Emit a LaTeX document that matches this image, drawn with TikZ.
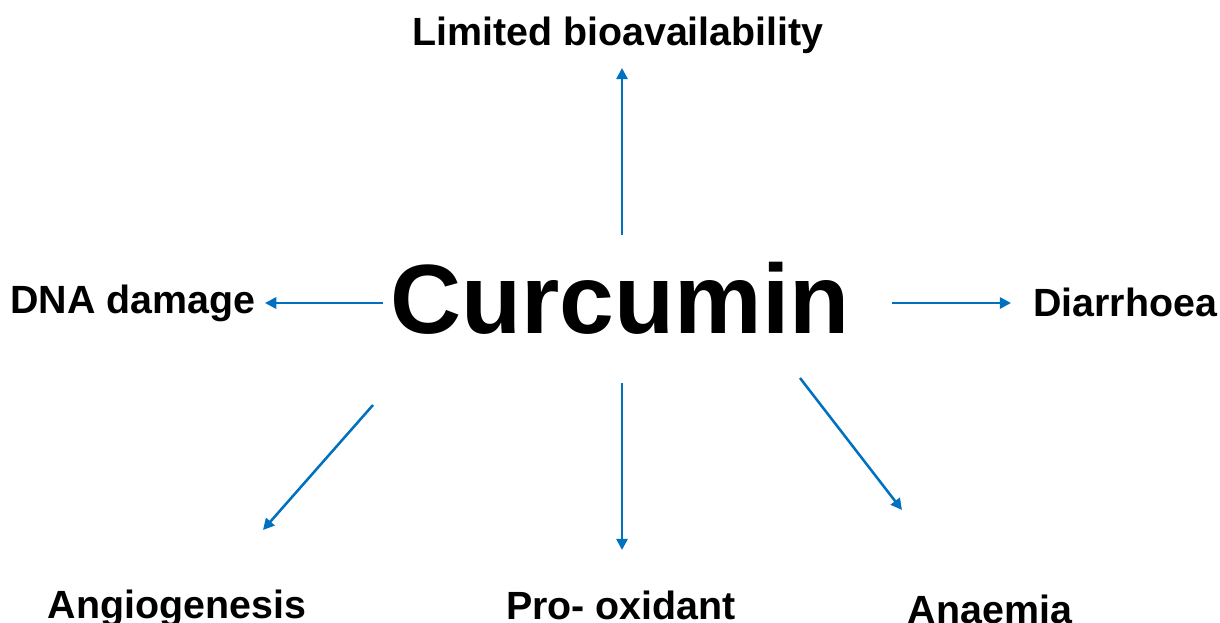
\documentclass[tikz,border=0pt]{standalone}
\usepackage{fontspec}
\setmainfont{Liberation Sans}
\definecolor{arrowblue}{HTML}{0070C0}
\tikzset{
 lbl/.style={font=\bfseries\fontsize{28}{34}\selectfont,inner sep=0pt},
 arr/.style={-{Triangle[length=8pt,width=8pt]},arrowblue,line width=1.8pt}
}
\usetikzlibrary{arrows.meta}
\begin{document}
\begin{tikzpicture}[x=0.025cm,y=-0.025cm]
 \useasboundingbox (0,0) rectangle (1220,623);
 \node[font=\bfseries\fontsize{70}{80}\selectfont,inner sep=0pt] (cur) at (620,298) {Curcumin};
 \node[lbl] (bio) at (618,35) {Limited bioavailability};
 \node[lbl] (dna) at (133,303) {DNA damage};
 \node[lbl] (dia) at (1125,302) {Diarrhoea};
 \node[lbl] (ang) at (177,608) {Angiogenesis};
 \node[lbl] (pro) at (621,605) {Pro- oxidant};
 \node[lbl] (ana) at (990,609) {Anaemia};
 \coordinate (bio1) at (622,235); \coordinate (bio2) at (622,68);
 \coordinate (dna1) at (383,303); \coordinate (dna2) at (265,303);
 \coordinate (dia1) at (892,303); \coordinate (dia2) at (1011,303);
 \coordinate (ang1) at (373,405); \coordinate (ang2) at (263,530);
 \coordinate (pro1) at (622,383); \coordinate (pro2) at (622,550);
 \coordinate (ana1) at (800,378); \coordinate (ana2) at (902,510);
 \draw[arr] (bio1) -- (bio2);
 \draw[arr] (dna1) -- (dna2);
 \draw[arr] (dia1) -- (dia2);
 \draw[arr] (ang1) -- (ang2);
 \draw[arr] (pro1) -- (pro2);
 \draw[arr] (ana1) -- (ana2);
\end{tikzpicture}
\end{document}
